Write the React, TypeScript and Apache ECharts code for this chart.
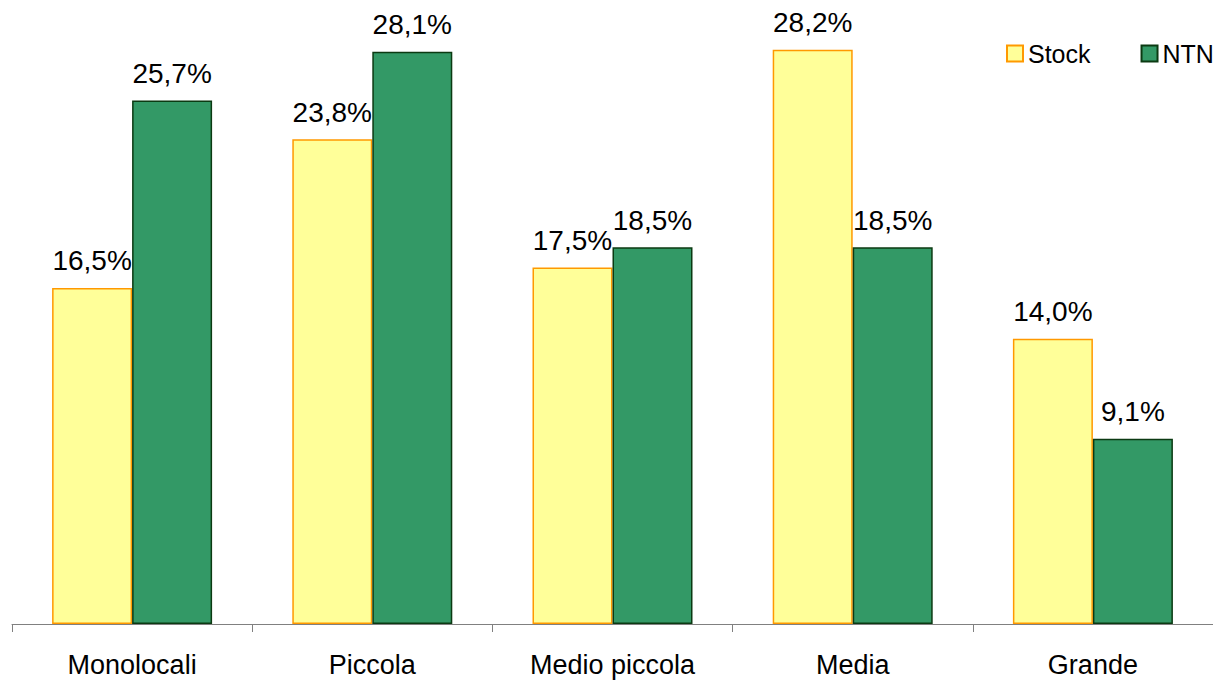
import React, { useEffect, useRef } from "react";
import * as echarts from "echarts";

// Share of dwellings by size class: existing stock vs. transactions (NTN)
const categories = ["Monolocali", "Piccola", "Medio piccola", "Media", "Grande"];
const stockValues = [16.5, 23.8, 17.5, 28.2, 14.0];
const ntnValues = [25.7, 28.1, 18.5, 18.5, 9.1];

const FONT = "'Liberation Sans', Arial, sans-serif";

const fmt = (v: number) => v.toFixed(1).replace(".", ",") + "%";

export default function App() {
  const ref = useRef<HTMLDivElement>(null);

  useEffect(() => {
    if (!ref.current) return;
    const chart = echarts.init(ref.current, undefined, { renderer: "svg" });
    const labelStyle = {
      show: true,
      position: "top" as const,
      distance: 13,
      fontFamily: FONT,
      fontSize: 28,
      color: "#000",
      formatter: (p: any) => fmt(p.value),
    };
    chart.setOption({
      animation: false,
      backgroundColor: "#fff",
      textStyle: { fontFamily: FONT },
      grid: { left: 12, right: -3, top: 13, bottom: 56, containLabel: false },
      legend: {
        orient: "horizontal",
        left: 1001,
        width: 400,
        top: 36,
        icon: "rect",
        itemWidth: 16,
        itemHeight: 16,
        itemGap: 50,
        textStyle: { fontFamily: FONT, fontSize: 25, color: "#000" },
        data: ["Stock", "NTN"],
      },
      xAxis: {
        type: "category",
        data: categories,
        boundaryGap: true,
        axisLine: { lineStyle: { color: "#808080", width: 1 } },
        axisTick: { show: true, length: 8, lineStyle: { color: "#808080" } },
        axisLabel: { fontFamily: FONT, fontSize: 27, color: "#000", margin: 27 },
      },
      yAxis: {
        type: "value",
        min: 0,
        max: 30,
        show: false,
        splitLine: { show: false },
      },
      series: [
        {
          name: "Stock",
          type: "bar",
          data: stockValues,
          barWidth: 80,
          barGap: "0%",
          itemStyle: { color: "#FFFF99", borderColor: "#FF9900", borderWidth: 1.5 },
          label: labelStyle,
        },
        {
          name: "NTN",
          type: "bar",
          data: ntnValues,
          barWidth: 80,
          itemStyle: { color: "#339966", borderColor: "#0B3A12", borderWidth: 1.5 },
          label: labelStyle,
        },
      ],
    });
    return () => chart.dispose();
  }, []);

  return (
    <div
      ref={ref}
      style={{ position: "fixed", left: 0, top: 0, width: 1213, height: 680 }}
    />
  );
}
